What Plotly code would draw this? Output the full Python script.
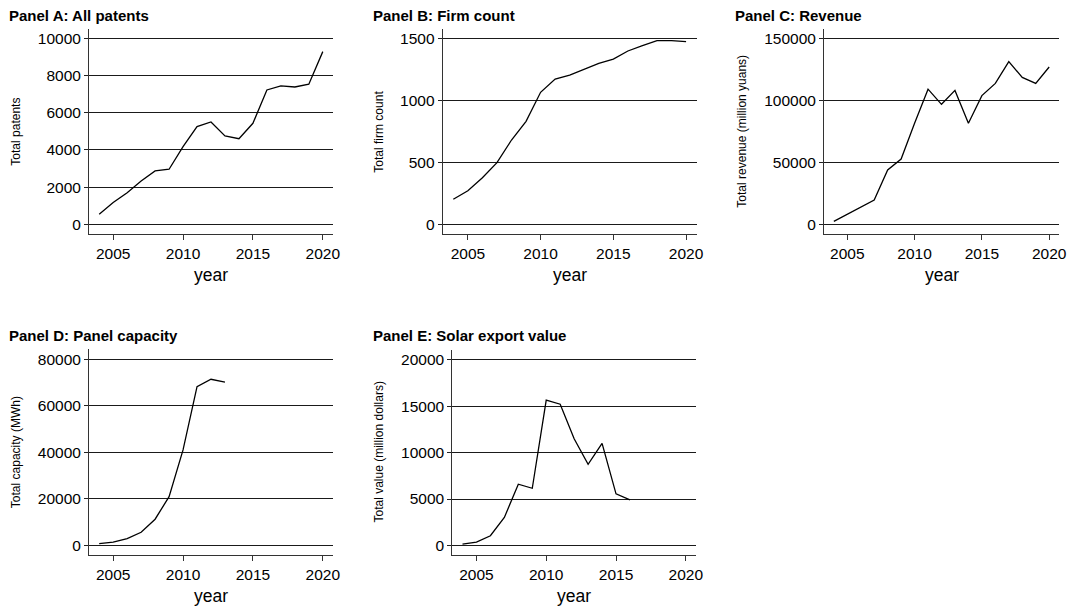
import plotly.graph_objects as go

W, H = 1070, 606

years = list(range(2004, 2021))
patents = [540, 1170, 1700, 2330, 2870, 2960, 4175, 5250, 5500, 4750, 4600, 5430, 7220, 7440, 7380, 7530, 9280]
firms = [202, 271, 376, 497, 680, 831, 1065, 1172, 1204, 1250, 1298, 1333, 1398, 1441, 1481, 1481, 1473]
revenue = [2400, 8000, 14000, 19600, 43800, 52700, 81500, 109000, 96800, 108000, 81500, 103800, 113700, 131200, 118500, 113700, 126900]
years_cap = list(range(2004, 2014))
capacity = [700, 1300, 2870, 5600, 11200, 20900, 41000, 68200, 71400, 70200]
years_exp = list(range(2004, 2017))
exports = [140, 360, 1040, 3010, 6600, 6160, 15660, 15230, 11500, 8750, 11000, 5560, 4910]

x_ticks = [2005, 2010, 2015, 2020]

panels = [
    dict(title="Panel A: All patents", ytitle="Total patents", x=years, y=patents,
         px=(89, 333), py=(29.3, 234), yr=[-520, 10480], yt=[0, 2000, 4000, 6000, 8000, 10000],
         tx=7, ty=15, ytx=16),
    dict(title="Panel B: Firm count", ytitle="Total firm count", x=years, y=firms,
         px=(442.7, 696.7), py=(29.3, 234), yr=[-78, 1573], yt=[0, 500, 1000, 1500],
         tx=371, ty=15, ytx=379),
    dict(title="Panel C: Revenue", ytitle="Total revenue (million yuans)", x=years, y=revenue,
         px=(824, 1059), py=(29.3, 234), yr=[-7800, 157300], yt=[0, 50000, 100000, 150000],
         tx=733, ty=15, ytx=742),
    dict(title="Panel D: Panel capacity", ytitle="Total capacity (MWh)", x=years_cap, y=capacity,
         px=(89, 333), py=(349.3, 555), yr=[-4200, 84300], yt=[0, 20000, 40000, 60000, 80000],
         tx=7, ty=335, ytx=16),
    dict(title="Panel E: Solar export value", ytitle="Total value (million dollars)", x=years_exp, y=exports,
         px=(452.3, 696), py=(350, 555), yr=[-1040, 21075], yt=[0, 5000, 10000, 15000, 20000],
         tx=371, ty=335, ytx=378),
]

FONT = "Liberation Sans, Arial, sans-serif"
fig = go.Figure()
layout = dict(width=W, height=H, margin=dict(l=0, r=0, t=0, b=0, autoexpand=False),
              paper_bgcolor="white", plot_bgcolor="white", showlegend=False,
              font=dict(family=FONT, color="black"))
annotations = []

for i, p in enumerate(panels, start=1):
    sx = "" if i == 1 else str(i)
    fig.add_trace(go.Scatter(x=p["x"], y=p["y"], mode="lines",
                             line=dict(color="black", width=1.3),
                             xaxis="x" + sx, yaxis="y" + sx, hoverinfo="x+y"))
    x0, x1 = p["px"]
    y0, y1 = p["py"]
    layout["xaxis" + sx] = dict(domain=[x0 / W, x1 / W], anchor="y" + sx, automargin=False,
                                range=[2003.27, 2020.73], tickvals=x_ticks, tickformat="d",
                                ticks="outside", ticklen=5, tickcolor="#333",
                                showline=True, linecolor="#333", linewidth=1,
                                showgrid=False, zeroline=False,
                                tickfont=dict(size=15.5, family=FONT))
    layout["yaxis" + sx] = dict(domain=[1 - y1 / H, 1 - y0 / H], anchor="x" + sx, automargin=False,
                                range=p["yr"], tickvals=p["yt"], tickformat="d",
                                ticks="outside", ticklen=4, tickcolor="#222",
                                showline=True, linecolor="#333", linewidth=1,
                                showgrid=True, gridcolor="#1a1a1a", gridwidth=1,
                                zeroline=False,
                                tickfont=dict(size=15.5, family=FONT))
    annotations.append(dict(text="<b>" + p["title"] + "</b>", x=p["tx"] / W, y=1 - p["ty"] / H,
                            xref="paper", yref="paper", xanchor="left", yanchor="middle",
                            showarrow=False, font=dict(size=15, family=FONT)))
    annotations.append(dict(text=p["ytitle"], x=p["ytx"] / W, y=1 - ((y0 + y1) / 2) / H,
                            xref="paper", yref="paper", xanchor="center", yanchor="middle",
                            textangle=-90, showarrow=False, font=dict(size=12, family=FONT)))
    annotations.append(dict(text="year", x=((x0 + x1) / 2) / W, y=1 - (y1 + 41) / H,
                            xref="paper", yref="paper", xanchor="center", yanchor="middle",
                            showarrow=False, font=dict(size=17.5, family=FONT)))

layout["annotations"] = annotations
fig.update_layout(**layout)
fig.write_html("out.html", config={"displayModeBar": False},
               post_script="document.body.style.margin='0';document.body.style.padding='0';")
